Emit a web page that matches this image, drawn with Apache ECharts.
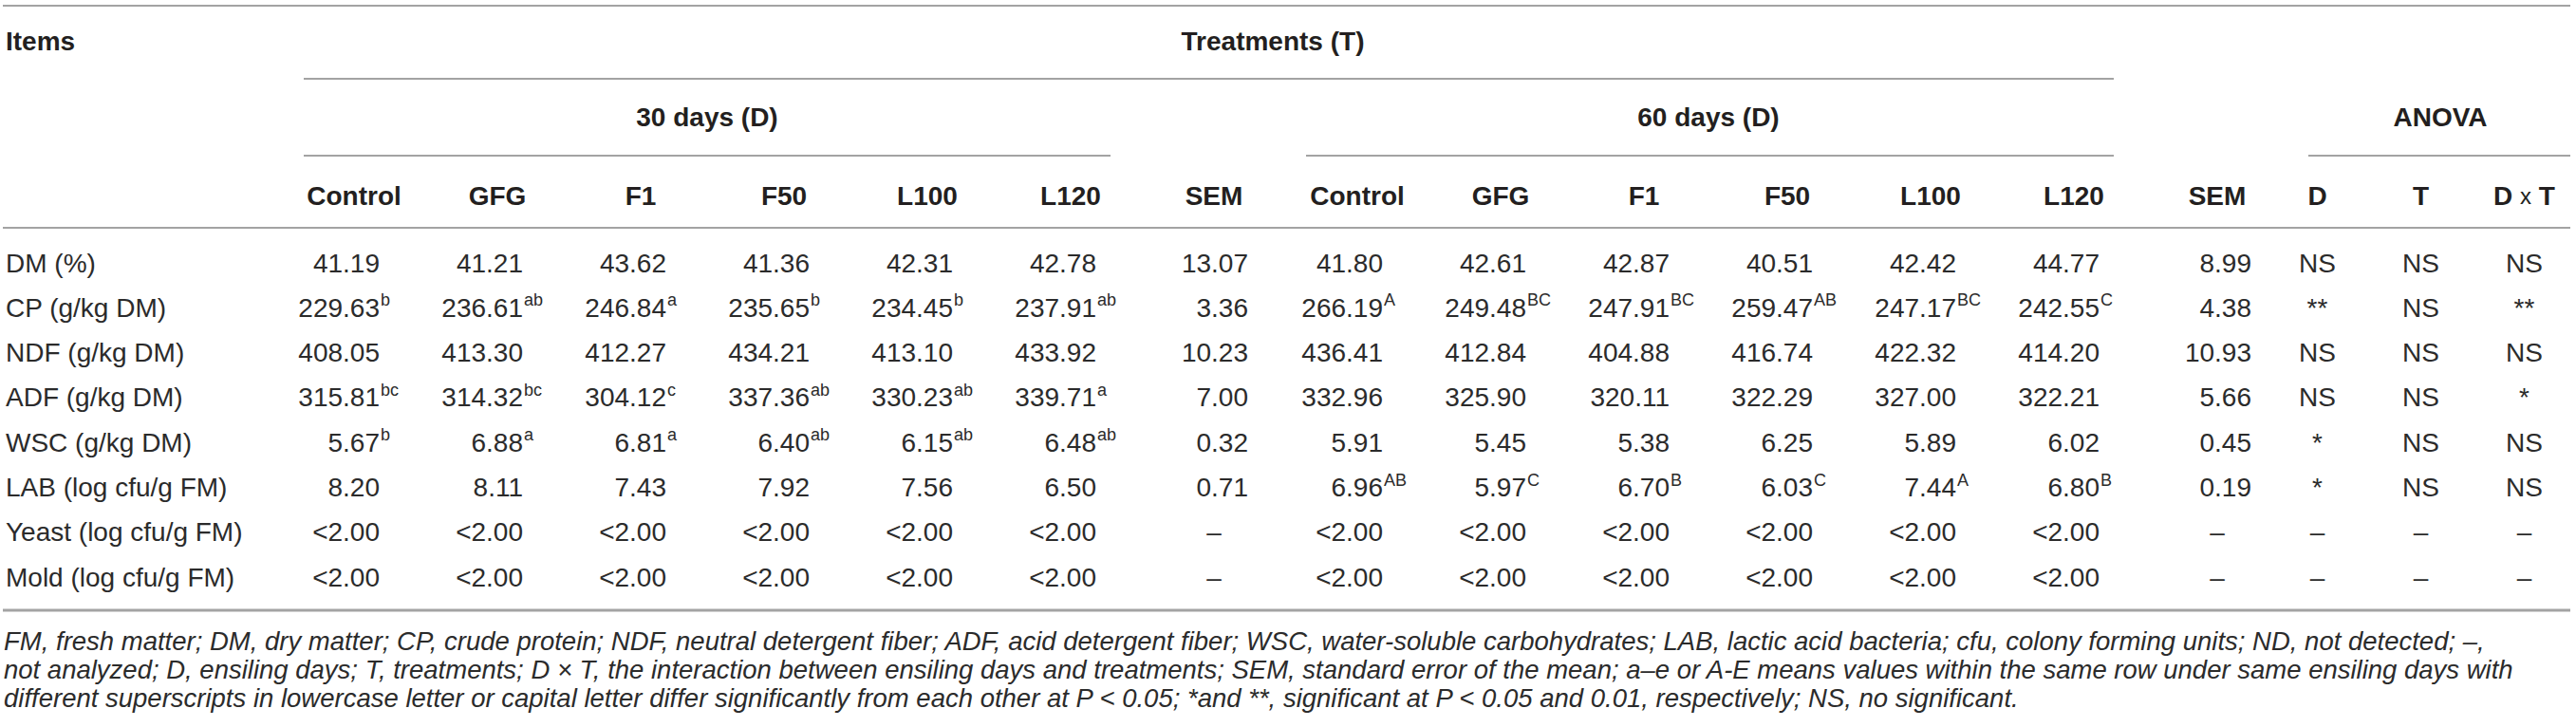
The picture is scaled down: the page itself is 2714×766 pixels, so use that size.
<!DOCTYPE html>
<html>
<head>
<meta charset="utf-8">
<script src="https://cdn.jsdelivr.net/npm/echarts@6/dist/echarts.min.js"></script>
<style>
  html, body { margin: 0; padding: 0; background: #fff; }
  #table { width: 2714px; height: 766px; }
</style>
</head>
<body>
<div id="table"></div>
<script>
// rows and columns of the table
var rowLabels = [
  "DM (%)",
  "CP (g/kg DM)",
  "NDF (g/kg DM)",
  "ADF (g/kg DM)",
  "WSC (g/kg DM)",
  "LAB (log cfu/g FM)",
  "Yeast (log cfu/g FM)",
  "Mold (log cfu/g FM)",
];
var treatmentCols = ["Control", "GFG", "F1", "F50", "L100", "L120", "SEM"];
var anovaCols = ["D", "T", "D x T"];

var day30Values = [
  ["41.19", "41.21", "43.62", "41.36", "42.31", "42.78", "13.07"],
  ["229.63", "236.61", "246.84", "235.65", "234.45", "237.91", "3.36"],
  ["408.05", "413.30", "412.27", "434.21", "413.10", "433.92", "10.23"],
  ["315.81", "314.32", "304.12", "337.36", "330.23", "339.71", "7.00"],
  ["5.67", "6.88", "6.81", "6.40", "6.15", "6.48", "0.32"],
  ["8.20", "8.11", "7.43", "7.92", "7.56", "6.50", "0.71"],
  ["<2.00", "<2.00", "<2.00", "<2.00", "<2.00", "<2.00", "–"],
  ["<2.00", "<2.00", "<2.00", "<2.00", "<2.00", "<2.00", "–"],
];
var day30Sups = [
  ["", "", "", "", "", "", ""],
  ["b", "ab", "a", "b", "b", "ab", ""],
  ["", "", "", "", "", "", ""],
  ["bc", "bc", "c", "ab", "ab", "a", ""],
  ["b", "a", "a", "ab", "ab", "ab", ""],
  ["", "", "", "", "", "", ""],
  ["", "", "", "", "", "", ""],
  ["", "", "", "", "", "", ""],
];
var day60Values = [
  ["41.80", "42.61", "42.87", "40.51", "42.42", "44.77", "8.99"],
  ["266.19", "249.48", "247.91", "259.47", "247.17", "242.55", "4.38"],
  ["436.41", "412.84", "404.88", "416.74", "422.32", "414.20", "10.93"],
  ["332.96", "325.90", "320.11", "322.29", "327.00", "322.21", "5.66"],
  ["5.91", "5.45", "5.38", "6.25", "5.89", "6.02", "0.45"],
  ["6.96", "5.97", "6.70", "6.03", "7.44", "6.80", "0.19"],
  ["<2.00", "<2.00", "<2.00", "<2.00", "<2.00", "<2.00", "–"],
  ["<2.00", "<2.00", "<2.00", "<2.00", "<2.00", "<2.00", "–"],
];
var day60Sups = [
  ["", "", "", "", "", "", ""],
  ["A", "BC", "BC", "AB", "BC", "C", ""],
  ["", "", "", "", "", "", ""],
  ["", "", "", "", "", "", ""],
  ["", "", "", "", "", "", ""],
  ["AB", "C", "B", "C", "A", "B", ""],
  ["", "", "", "", "", "", ""],
  ["", "", "", "", "", "", ""],
];
var anovaValues = [
  ["NS", "NS", "NS"],
  ["**", "NS", "**"],
  ["NS", "NS", "NS"],
  ["NS", "NS", "*"],
  ["*", "NS", "NS"],
  ["*", "NS", "NS"],
  ["–", "–", "–"],
  ["–", "–", "–"],
];
var footnotes = [
  "FM, fresh matter; DM, dry matter; CP, crude protein; NDF, neutral detergent fiber; ADF, acid detergent fiber; WSC, water-soluble carbohydrates; LAB, lactic acid bacteria; cfu, colony forming units; ND, not detected; –,",
  "not analyzed; D, ensiling days; T, treatments; D × T, the interaction between ensiling days and treatments; SEM, standard error of the mean; a–e or A-E means values within the same row under same ensiling days with",
  "different superscripts in lowercase letter or capital letter differ significantly from each other at P < 0.05; *and **, significant at P < 0.05 and 0.01, respectively; NS, no significant.",
];

var FONT = '"Liberation Sans", Arial, Helvetica, sans-serif';
var TEXT = "#2b2b2b";
var HEAD = "#231f20";
var RULE = "#a3a3a3";

// build the cells: 14 treatment columns (30 d + 60 d) and 3 anova columns
var cells = [];
rowLabels.forEach(function (r, ri) {
  for (var c = 0; c < 7; c++) {
    cells.push({ col: c, row: ri, text: day30Values[ri][c], sup: day30Sups[ri][c] });
    cells.push({ col: c + 7, row: ri, text: day60Values[ri][c], sup: day60Sups[ri][c] });
  }
});
var anovaCells = [];
rowLabels.forEach(function (r, ri) {
  anovaValues[ri].forEach(function (v, ci) {
    anovaCells.push({ col: ci, row: ri, text: v });
  });
});

function renderTreatment(params, api) {
  var cell = cells[params.dataIndex];
  var pt = api.coord([api.value(0), api.value(1)]);
  var isSem = cell.col === 6 || cell.col === 13;
  if (cell.text === "–") {
    return {
      type: "text",
      x: pt[0],
      y: pt[1],
      style: { text: cell.text, fill: TEXT, font: "28px " + FONT, align: "center", verticalAlign: "middle" },
    };
  }
  // numbers are right aligned on the decimal column, letters hang after
  var right = pt[0] + (isSem ? 36 : 27);
  var children = [
    {
      type: "text",
      x: right,
      y: pt[1],
      style: { text: cell.text, fill: TEXT, font: "28px " + FONT, align: "right", verticalAlign: "middle" },
    },
  ];
  if (cell.sup) {
    children.push({
      type: "text",
      x: right + 1,
      y: pt[1] - 8,
      style: { text: cell.sup, fill: TEXT, font: "18px " + FONT, align: "left", verticalAlign: "middle" },
    });
  }
  return { type: "group", children: children };
}

function renderAnova(params, api) {
  var cell = anovaCells[params.dataIndex];
  var pt = api.coord([api.value(0), api.value(1)]);
  return {
    type: "text",
    x: pt[0],
    y: pt[1],
    style: { text: cell.text, fill: TEXT, font: "28px " + FONT, align: "center", verticalAlign: "middle" },
  };
}

function hline(x1, x2, y, w) {
  return {
    type: "line",
    shape: { x1: x1, y1: y, x2: x2, y2: y },
    style: { stroke: RULE, lineWidth: w || 2 },
  };
}
function headText(t, x, y, align) {
  return {
    type: "text",
    x: x,
    y: y,
    style: { text: t, fill: HEAD, font: "bold 28px " + FONT, align: align || "center", verticalAlign: "middle" },
  };
}

var chart = echarts.init(document.getElementById("table"), null, { renderer: "svg" });

var headLabel = {
  margin: 47,
  verticalAlign: "middle",
  color: HEAD,
  fontFamily: FONT,
  fontSize: 28,
  fontWeight: "bold",
  interval: 0,
};

var option = {
  animation: false,
  backgroundColor: "#ffffff",
  grid: [
    { left: 297.5, top: 253.4, width: 2114, height: 378.4 },
    { left: 2387, top: 253.4, width: 334.5, height: 378.4 },
  ],
  xAxis: [
    {
      type: "category",
      gridIndex: 0,
      position: "top",
      data: treatmentCols.concat(treatmentCols),
      axisLine: { show: false },
      axisTick: { show: false },
      splitLine: { show: false },
      axisLabel: headLabel,
    },
    {
      type: "category",
      gridIndex: 1,
      position: "top",
      data: anovaCols,
      axisLine: { show: false },
      axisTick: { show: false },
      splitLine: { show: false },
      axisLabel: Object.assign({}, headLabel, {
        formatter: function (v) {
          return v === "D x T" ? "D {x|x} T" : v;
        },
        rich: { x: { fontSize: 24, fontWeight: "normal", color: HEAD, fontFamily: FONT } },
      }),
    },
  ],
  yAxis: [
    {
      type: "category",
      gridIndex: 0,
      inverse: true,
      data: rowLabels,
      axisLine: { show: false },
      axisTick: { show: false },
      splitLine: { show: false },
      axisLabel: {
        align: "left",
        margin: 291.5,
        color: TEXT,
        fontFamily: FONT,
        fontSize: 28,
        interval: 0,
      },
    },
    {
      type: "category",
      gridIndex: 1,
      inverse: true,
      data: rowLabels,
      axisLine: { show: false },
      axisTick: { show: false },
      splitLine: { show: false },
      axisLabel: { show: false },
    },
  ],
  series: [
    {
      type: "custom",
      xAxisIndex: 0,
      yAxisIndex: 0,
      renderItem: renderTreatment,
      data: cells.map(function (c) {
        return [c.col, c.row];
      }),
      encode: { x: 0, y: 1 },
      silent: true,
    },
    {
      type: "custom",
      xAxisIndex: 1,
      yAxisIndex: 1,
      renderItem: renderAnova,
      data: anovaCells.map(function (c) {
        return [c.col, c.row];
      }),
      encode: { x: 0, y: 1 },
      silent: true,
    },
  ],
  graphic: [
    hline(3, 2708, 6),
    hline(320, 2227, 83),
    hline(320, 1170, 164),
    hline(1376, 2227, 164),
    hline(2432, 2708, 164),
    hline(3, 2708, 240),
    hline(3, 2708, 643, 3),
    headText("Items", 6, 43, "left"),
    headText("Treatments (T)", 1341, 43),
    headText("30 days (D)", 745, 123),
    headText("60 days (D)", 1800, 123),
    headText("ANOVA", 2571, 123),
  ].concat(
    footnotes.map(function (t, i) {
      return {
        type: "text",
        x: 4,
        y: 675 + i * 30,
        style: { text: t, fill: TEXT, font: "italic 27.5px " + FONT, align: "left", verticalAlign: "middle" },
      };
    })
  ),
};

chart.setOption(option);
</script>
</body>
</html>
